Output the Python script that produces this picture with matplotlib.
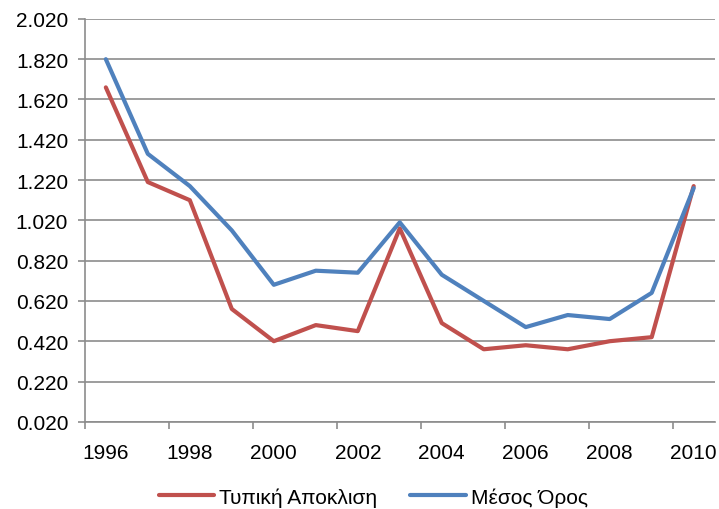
import matplotlib.pyplot as plt
import numpy as np

# data (points sit at mid-year)
years = np.arange(1996, 2011) + 0.5
std_dev = [1.68, 1.21, 1.12, 0.58, 0.42, 0.50, 0.47, 0.98, 0.51, 0.38,
           0.40, 0.38, 0.42, 0.44, 1.19]
mean_val = [1.82, 1.35, 1.19, 0.97, 0.70, 0.77, 0.76, 1.01, 0.75, 0.62,
            0.49, 0.55, 0.53, 0.66, 1.18]
labels = ['Τυπική Αποκλιση', 'Μέσος Όρος']
x_ticks = [1996, 1998, 2000, 2002, 2004, 2006, 2008, 2010]
y_ticks = [0.02 + 0.2 * i for i in range(11)]

plt.rcParams['font.family'] = ['Liberation Sans', 'DejaVu Sans']

fig = plt.figure(figsize=(7.19, 5.10), dpi=100)
ax = fig.add_axes([0.118, 0.171, 0.876, 0.790])

ax.plot(years, std_dev, color='#C0504D', lw=3, label=labels[0],
        solid_capstyle='round', solid_joinstyle='round')
ax.plot(years, mean_val, color='#4F81BD', lw=3, label=labels[1],
        solid_capstyle='round', solid_joinstyle='round')

ax.set_xlim(1996, 2011)
ax.set_ylim(0.02, 2.02)
# tick marks on the even years, labels drawn half a year to the right
ax.set_xticks(x_ticks)
ax.set_xticklabels([])
ax.set_xticks([x + 0.5 for x in x_ticks], minor=True)
ax.set_xticklabels([str(x) for x in x_ticks], minor=True)
ax.tick_params(axis='x', which='minor', length=0, pad=15, labelsize=15)
ax.set_yticks(y_ticks)
ax.set_yticklabels([f'{v:.3f}' for v in y_ticks])

ax.grid(axis='y', color='#8c8c8c', lw=1.2)
ax.set_axisbelow(True)
for s in ['top', 'right']:
    ax.spines[s].set_visible(False)
for s in ['left', 'bottom']:
    ax.spines[s].set_color('#8c8c8c')
    ax.spines[s].set_linewidth(1.2)
ax.tick_params(axis='both', which='major', colors='#8c8c8c',
               labelcolor='black', labelsize=15, length=5, width=1.2)
ax.tick_params(axis='y', pad=7)

fig.legend(loc='center', bbox_to_anchor=(0.519, 0.024), ncol=2,
           frameon=False, fontsize=15, handlelength=2.65, handletextpad=0.25,
           columnspacing=1.6, borderaxespad=0, borderpad=0)

fig.savefig('out.png', dpi=100)
